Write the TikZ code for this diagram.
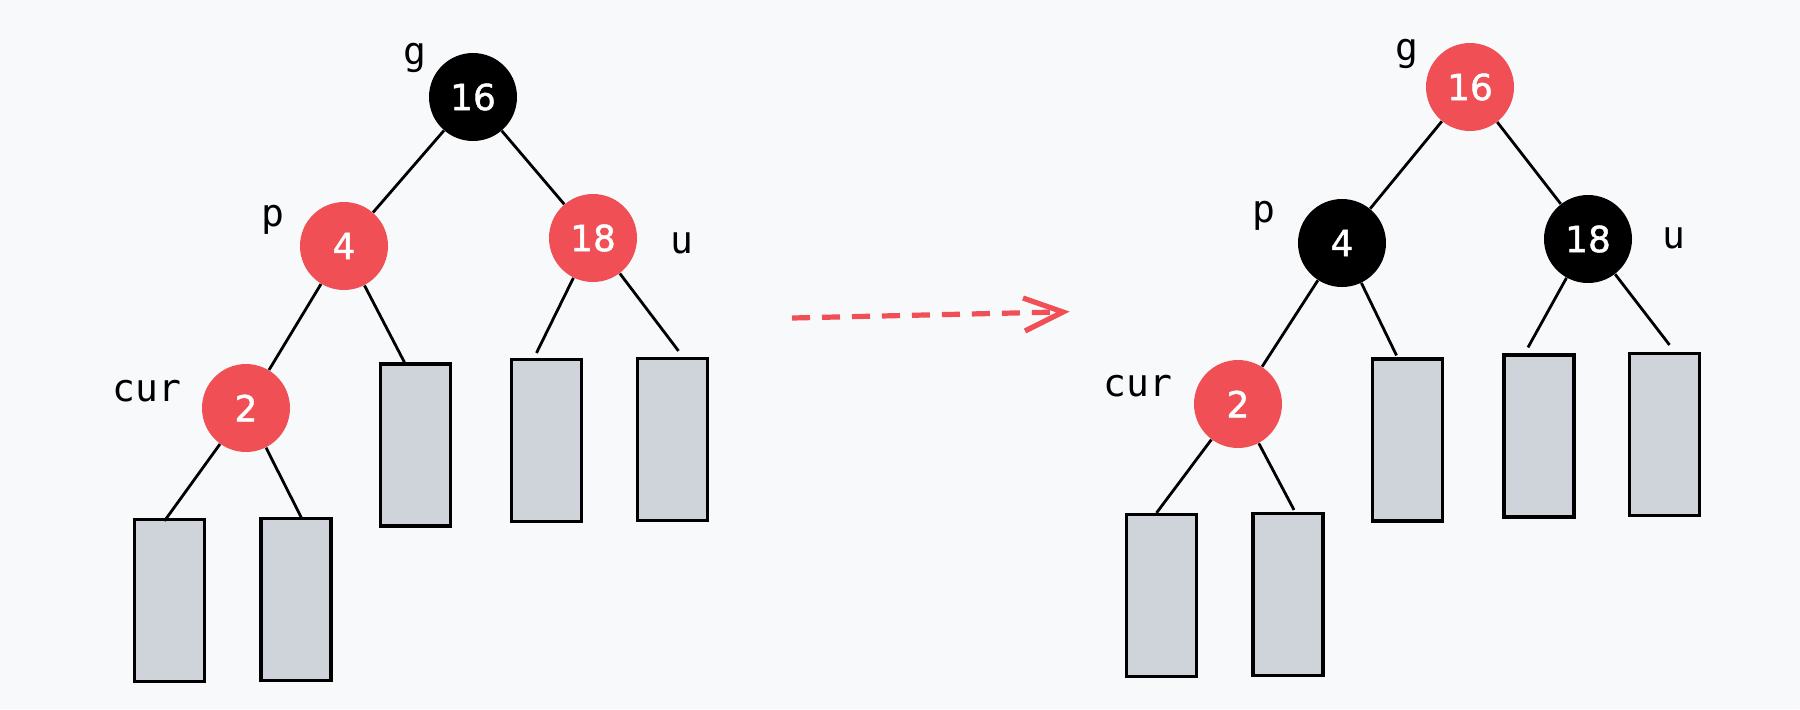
\documentclass[tikz,border=0pt]{standalone}
\usepackage{fontspec}
\newfontfamily\numfont{DejaVu Sans}[FakeBold=1.2]
\newfontfamily\labfont{DejaVu Sans Mono}
\definecolor{bg}{HTML}{F8F9FA}
\definecolor{rbred}{HTML}{EF4F55}
\definecolor{leaf}{HTML}{CED4DA}
\tikzset{
  rbnode/.style={circle, minimum size=44pt, inner sep=0pt, text=white, font=\numfont\fontsize{18}{20}\selectfont},
  rednode/.style={rbnode, fill=rbred},
  blacknode/.style={rbnode, fill=black},
  leafbox/.style={draw=black, line width=1.6pt, fill=leaf, minimum width=35pt, minimum height=81pt, inner sep=0pt},
  lab/.style={font=\labfont\fontsize{19}{21}\selectfont, text=black},
  edge/.style={draw=black, line width=1.4pt}
}
\begin{document}
\begin{tikzpicture}[x=0.5pt, y=-0.5pt]
\fill[bg] (0,0) rectangle (1800,709);
\useasboundingbox (0,0) rectangle (1800,709);

% ---------- left tree ----------
\node[blacknode] (lg) at (473,97) {16};
\node[rednode] (lp) at (344,246) {4};
\node[rednode] (lu) at (593,238) {18};
\node[rednode] (lc) at (246,408) {2};
\node[leafbox] (lr1) at (169.5,600.5) {};
\node[leafbox] (lr2) at (296,599.5) {};
\node[leafbox] (lr3) at (415.5,445) {};
\node[leafbox] (lr4) at (546.5,440.5) {};
\node[leafbox] (lr5) at (672.5,439.5) {};
\node[lab] (lgl) at (415,58) {g};
\node[lab] (lpl) at (273,220) {p};
\node[lab] (lul) at (682,243) {u};
\node[lab] (lcl) at (147,391) {cur};
\coordinate (le1) at ([xshift=-2.5pt,yshift=-1.5pt]lr1.north);
\coordinate (le2) at ([xshift=3pt,yshift=-1pt]lr2.north);
\coordinate (le3) at ([xshift=-5.5pt,yshift=0pt]lr3.north);
\coordinate (le4) at ([xshift=-5pt,yshift=2.5pt]lr4.north);
\coordinate (le5) at ([xshift=3pt,yshift=3pt]lr5.north);
\draw[edge] (lg) -- (lp);
\draw[edge] (lg) -- (lu);
\draw[edge] (lp) -- (lc);
\draw[edge] (lp) -- (le3);
\draw[edge] (lc) -- (le1);
\draw[edge] (lc) -- (le2);
\draw[edge] (lu) -- (le4);
\draw[edge] (lu) -- (le5);

% ---------- arrow ----------
\coordinate (as) at (792,318);
\coordinate (ae) at (1058,312);
\coordinate (at) at (1063,312);
\coordinate (a1) at (1023,298);
\coordinate (a2) at (1025,331);
\draw[rbred, line width=2.6pt, dash pattern=on 9pt off 6pt] (as) -- (ae);
\draw[rbred, line width=2.6pt, line cap=butt] (a1) -- (at) -- (a2);

% ---------- right tree ----------
\node[rednode] (rg) at (1470,87) {16};
\node[blacknode] (rp) at (1342,243) {4};
\node[blacknode] (ru) at (1588,239) {18};
\node[rednode] (rc) at (1238,404) {2};
\node[leafbox] (rr1) at (1161.5,595.5) {};
\node[leafbox] (rr2) at (1288,594.5) {};
\node[leafbox] (rr3) at (1407.5,440) {};
\node[leafbox] (rr4) at (1539,436) {};
\node[leafbox] (rr5) at (1664.5,434.5) {};
\node[lab] (rgl) at (1407,54) {g};
\node[lab] (rpl) at (1264,216) {p};
\node[lab] (rul) at (1674,238) {u};
\node[lab] (rcl) at (1138,386) {cur};
\coordinate (re1) at ([xshift=-2.5pt,yshift=0pt]rr1.north);
\coordinate (re2) at ([xshift=3pt,yshift=1pt]rr2.north);
\coordinate (re3) at ([xshift=-5.5pt,yshift=1pt]rr3.north);
\coordinate (re4) at ([xshift=-5.5pt,yshift=3pt]rr4.north);
\coordinate (re5) at ([xshift=2.5pt,yshift=3.5pt]rr5.north);
\draw[edge] (rg) -- (rp);
\draw[edge] (rg) -- (ru);
\draw[edge] (rp) -- (rc);
\draw[edge] (rp) -- (re3);
\draw[edge] (rc) -- (re1);
\draw[edge] (rc) -- (re2);
\draw[edge] (ru) -- (re4);
\draw[edge] (ru) -- (re5);
\end{tikzpicture}
\end{document}
